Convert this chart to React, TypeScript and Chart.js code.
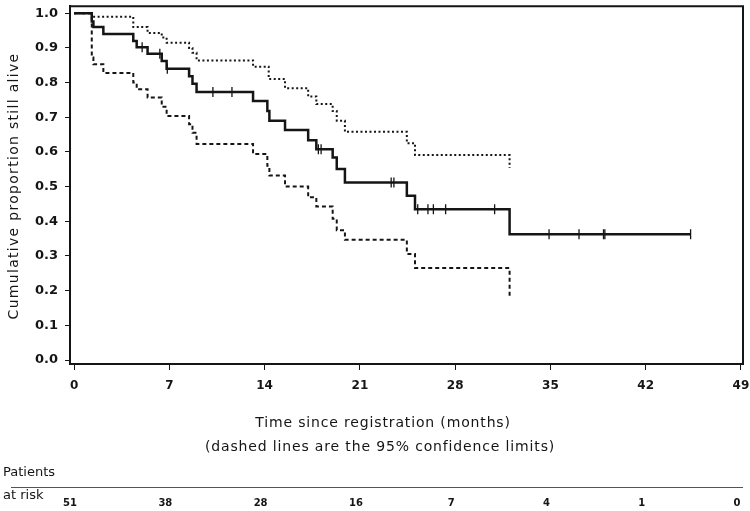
import React, { useEffect, useRef } from "react";
import { Chart, registerables } from "chart.js";

Chart.register(...registerables);

const xTicks = [0, 7, 14, 21, 28, 35, 42, 49];
const yTicks = [0, 0.1, 0.2, 0.3, 0.4, 0.5, 0.6, 0.7, 0.8, 0.9, 1.0];
const atRisk = [51, 38, 28, 16, 7, 4, 1, 0];

const kmTimes = [0, 1.3, 1.42, 2.15, 4.35, 4.6, 5.4, 6.44, 6.8, 8.45, 8.7, 9.0, 13.15, 14.2, 14.35, 15.5, 17.2, 17.8, 19.0, 19.3, 19.9, 24.45, 25.05, 32.0, 45.3];
const kmSurv = [1.0, 0.976, 0.96, 0.94, 0.92, 0.902, 0.883, 0.862, 0.84, 0.818, 0.797, 0.773, 0.747, 0.718, 0.69, 0.663, 0.634, 0.608, 0.584, 0.551, 0.512, 0.474, 0.435, 0.363, 0.363];

const upperTimes = [0, 1.3, 4.35, 5.4, 6.44, 6.8, 8.45, 8.7, 9.0, 13.15, 14.3, 15.5, 17.2, 17.8, 19.0, 19.3, 19.9, 24.45, 25.05, 32.0];
const upperVals = [1.0, 0.99, 0.96, 0.943, 0.93, 0.915, 0.9, 0.886, 0.864, 0.846, 0.81, 0.784, 0.76, 0.738, 0.718, 0.69, 0.658, 0.625, 0.591, 0.554];

const lowerTimes = [0, 1.3, 1.42, 2.15, 4.35, 4.6, 5.4, 6.44, 6.8, 8.45, 8.7, 9.0, 13.15, 14.2, 14.35, 15.5, 17.2, 17.8, 19.0, 19.3, 19.9, 24.45, 25.05, 32.0];
const lowerVals = [1.0, 0.872, 0.853, 0.828, 0.8, 0.781, 0.757, 0.73, 0.704, 0.68, 0.655, 0.623, 0.594, 0.56, 0.532, 0.5, 0.469, 0.443, 0.407, 0.374, 0.347, 0.306, 0.265, 0.185];

const censorTimes = [5.0, 6.3, 6.85, 10.2, 11.6, 17.95, 18.15, 23.3, 23.5, 25.25, 26.0, 26.4, 27.3, 30.9, 34.9, 37.1, 38.9, 39.0, 45.3];

const xTitle1 = "Time since registration (months)";
const xTitle2 = "(dashed lines are the 95% confidence limits)";
const yTitle = "Cumulative proportion still alive";

function toPoints(ts: number[], vs: number[]) {
  return ts.map((t, i) => ({ x: t, y: vs[i] }));
}
function survAt(t: number) {
  let s = kmSurv[0];
  for (let i = 0; i < kmTimes.length; i++) {
    if (kmTimes[i] <= t) s = kmSurv[i];
  }
  return s;
}

const INK = "#151515";

const textPlugin = {
  id: "kmText",
  afterDraw(chart: any) {
    const ctx = chart.ctx;
    const { chartArea } = chart;
    const xs = chart.scales.x;
    ctx.save();
    // frame top & right
    ctx.strokeStyle = INK;
    ctx.lineWidth = 2;
    ctx.beginPath();
    ctx.moveTo(chartArea.left, chartArea.top);
    ctx.lineTo(chartArea.right, chartArea.top);
    ctx.lineTo(chartArea.right, chartArea.bottom);
    ctx.stroke();

    ctx.fillStyle = INK;
    // y title
    ctx.save();
    ctx.translate(14, 186);
    ctx.rotate(-Math.PI / 2);
    ctx.font = '14px "DejaVu Sans"';
    (ctx as any).letterSpacing = "1.3px";
    ctx.textAlign = "center";
    ctx.textBaseline = "middle";
    ctx.fillText(yTitle, 0, 0);
    ctx.restore();

    // x titles
    ctx.save();
    ctx.font = '14px "DejaVu Sans"';
    (ctx as any).letterSpacing = "0.85px";
    ctx.textAlign = "center";
    ctx.textBaseline = "middle";
    ctx.fillText(xTitle1, 383, 423);
    ctx.fillText(xTitle2, 380, 447);
    ctx.restore();

    // risk table
    ctx.textAlign = "left";
    ctx.textBaseline = "middle";
    ctx.font = '13px "DejaVu Sans"';
    ctx.fillText("Patients", 3, 473);
    ctx.fillText("at risk", 3, 496);
    ctx.strokeStyle = "#555";
    ctx.lineWidth = 1;
    ctx.beginPath();
    ctx.moveTo(11, 487.5);
    ctx.lineTo(chartArea.right, 487.5);
    ctx.stroke();
    ctx.font = 'bold 10px "DejaVu Sans"';
    ctx.textAlign = "center";
    atRisk.forEach((n, i) => {
      ctx.fillText(String(n), xs.getPixelForValue(xTicks[i]) - 4, 503);
    });
    ctx.restore();
  },
};

export default function App() {
  const ref = useRef<HTMLCanvasElement | null>(null);
  useEffect(() => {
    if (!ref.current) return;
    const chart = new Chart(ref.current, {
      type: "line",
      data: {
        datasets: [
          {
            label: "Survival",
            data: toPoints(kmTimes, kmSurv),
            stepped: "before",
            borderColor: INK,
            borderWidth: 2.5,
            pointRadius: 0,
            fill: false,
          },
          {
            label: "Upper 95% CL",
            data: toPoints(upperTimes, upperVals),
            stepped: "before",
            borderColor: INK,
            borderWidth: 2,
            borderDash: [2, 2.5],
            pointRadius: 0,
            fill: false,
          },
          {
            label: "Lower 95% CL",
            data: toPoints(lowerTimes, lowerVals),
            stepped: "before",
            borderColor: INK,
            borderWidth: 2,
            borderDash: [4, 3],
            pointRadius: 0,
            fill: false,
          },
          {
            type: "scatter",
            label: "Censored",
            data: censorTimes.map((t) => ({ x: t, y: survAt(t) })),
            showLine: false,
            pointStyle: "line",
            rotation: 90,
            pointRadius: 5,
            borderColor: INK,
            borderWidth: 1.3,
          } as any,
        ],
      },
      options: {
        animation: false,
        responsive: false,
        maintainAspectRatio: false,
        layout: { padding: { top: 5, right: 7, left: 0, bottom: 0 } },
        plugins: { legend: { display: false }, tooltip: { enabled: false } },
        scales: {
          x: {
            type: "linear",
            min: -0.3,
            max: 49.15,
            afterBuildTicks: (scale: any) => {
              scale.ticks = xTicks.map((v) => ({ value: v }));
            },
            afterFit: (scale: any) => {
              scale.height = 147;
              scale.paddingLeft = 0;
              scale.paddingRight = 0;
            },
            grid: { display: true, drawOnChartArea: false, tickLength: 6, color: INK, lineWidth: 1 },
            border: { display: true, color: INK, width: 2 },
            ticks: {
              color: INK,
              padding: 9,
              maxRotation: 0,
              autoSkip: false,
              font: { family: "DejaVu Sans", size: 12, weight: "bold" },
              callback: (v: any) => String(v),
            },
          },
          y: {
            type: "linear",
            min: -0.0115,
            max: 1.02,
            afterBuildTicks: (scale: any) => {
              scale.ticks = yTicks.map((v) => ({ value: v }));
            },
            afterFit: (scale: any) => {
              scale.width = 70;
              scale.paddingTop = 0;
              scale.paddingBottom = 0;
            },
            grid: { display: true, drawOnChartArea: false, tickLength: 5, color: INK, lineWidth: 1 },
            border: { display: true, color: INK, width: 2 },
            ticks: {
              color: INK,
              padding: 7,
              autoSkip: false,
              font: { family: "DejaVu Sans", size: 13, weight: "bold" },
              callback: (v: any) => Number(v).toFixed(1),
            },
          },
        },
      },
      plugins: [textPlugin],
    });
    return () => chart.destroy();
  }, []);
  return (
    <div style={{ position: "fixed", left: 0, top: 0, width: 750, height: 511, background: "#fff" }}>
      <canvas ref={ref} width={750} height={511} style={{ width: 750, height: 511, display: "block" }} />
    </div>
  );
}
